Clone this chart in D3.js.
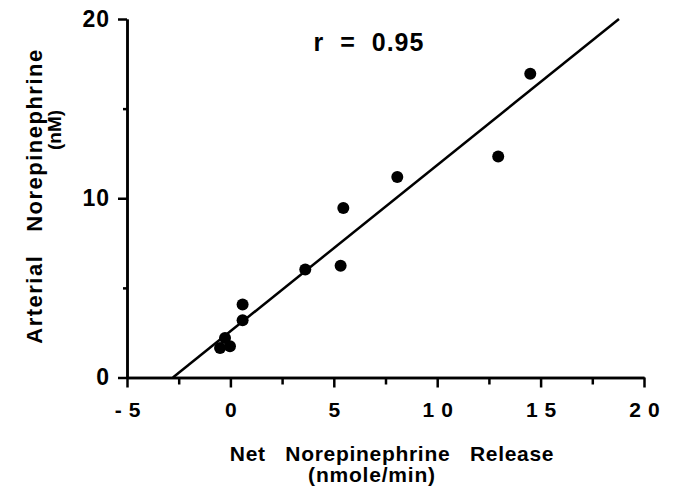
<!DOCTYPE html>
<html>
<head>
<meta charset="utf-8">
<script src="https://cdn.jsdelivr.net/npm/d3@7"></script>
<style>
  body { margin: 0; background: #fff; }
  text { font-family: "Liberation Sans", Arial, sans-serif; font-weight: bold; fill: #000; }
</style>
</head>
<body>
<svg width="673" height="487"></svg>
<script>
var svg = d3.select("svg");

// net release (x) vs arterial NE (y)
var releaseVals = [14.5, 12.95, 8.07, 5.46, 5.33, 3.62, 0.59, 0.59, -0.50, -0.02, -0.26];
var arterialVals = [16.95, 12.33, 11.18, 9.45, 6.24, 6.02, 4.07, 3.19, 1.65, 1.74, 2.21];

// regression line ends
var fitX = [-2.78, 18.79];
var fitY = [0, 20];

var xMajor = [-5, 0, 5, 10, 15, 20];
var xMinor = [-2.5, 2.5, 7.5, 12.5, 17.5];
var yMajor = [0, 10, 20];
var yMinor = [5, 15];

var xScale = d3.scaleLinear().domain([-5, 20]).range([127, 644]);
var yScale = d3.scaleLinear().domain([0, 20]).range([377.5, 19]);

svg.append("rect").attr("width", 673).attr("height", 487).attr("fill", "#fff");

// x axis
var xAxis = svg.append("g")
  .attr("transform", "translate(0," + yScale(0) + ")")
  .call(d3.axisBottom(xScale).tickValues(xMajor).tickSize(10).tickSizeOuter(0).tickPadding(15)
    .tickFormat(function(d) { return String(d); }));
svg.append("g")
  .attr("transform", "translate(0," + yScale(0) + ")")
  .call(d3.axisBottom(xScale).tickValues(xMinor).tickSize(7).tickSizeOuter(0).tickFormat(""));

// y axis
var yAxis = svg.append("g")
  .attr("transform", "translate(" + xScale(-5) + ",0)")
  .call(d3.axisLeft(yScale).tickValues(yMajor).tickSize(9).tickSizeOuter(0).tickPadding(9));
svg.append("g")
  .attr("transform", "translate(" + xScale(-5) + ",0)")
  .call(d3.axisLeft(yScale).tickValues(yMinor).tickSize(4).tickSizeOuter(0).tickFormat(""));

svg.selectAll(".domain, .tick line").attr("stroke", "#000").attr("stroke-width", 2.5);

xAxis.selectAll(".tick text")
  .style("font-size", "21px")
  .style("letter-spacing", "7px")
  .attr("dx", 3.5);

yAxis.selectAll(".tick text")
  .style("font-size", "23px")
  .style("letter-spacing", "1px")
  .attr("dx", 1);

// fit line
svg.append("line")
  .attr("x1", xScale(fitX[0])).attr("y1", yScale(fitY[0]))
  .attr("x2", xScale(fitX[1])).attr("y2", yScale(fitY[1]))
  .attr("stroke", "#000")
  .attr("stroke-width", 2.5);

// points
svg.selectAll("circle.pt")
  .data(releaseVals)
  .enter().append("circle")
  .attr("class", "pt")
  .attr("cx", function(d) { return xScale(d); })
  .attr("cy", function(d, i) { return yScale(arterialVals[i]); })
  .attr("r", 6)
  .attr("fill", "#000");

// correlation
svg.append("text")
  .attr("x", 369)
  .attr("y", 51)
  .style("text-anchor", "middle")
  .style("font-size", "25px")
  .style("white-space", "pre")
  .style("letter-spacing", "1px")
  .text("r  =  0.95");

// x axis title
svg.append("text")
  .attr("x", 392)
  .attr("y", 461)
  .style("text-anchor", "middle")
  .style("font-size", "21px")
  .style("white-space", "pre")
  .style("letter-spacing", "0.7px")
  .text("Net   Norepinephrine   Release");

svg.append("text")
  .attr("x", 372)
  .attr("y", 482)
  .style("text-anchor", "middle")
  .style("font-size", "21px")
  .style("letter-spacing", "0.8px")
  .text("(nmole/min)");

// y axis title
svg.append("text")
  .attr("transform", "translate(42,196) rotate(-90)")
  .style("text-anchor", "middle")
  .style("font-size", "22px")
  .style("white-space", "pre")
  .style("letter-spacing", "1.5px")
  .text("Arterial   Norepinephrine");

svg.append("text")
  .attr("transform", "translate(61,130) rotate(-90)")
  .style("text-anchor", "middle")
  .style("font-size", "19px")
  .text("(nM)");
</script>
</body>
</html>
